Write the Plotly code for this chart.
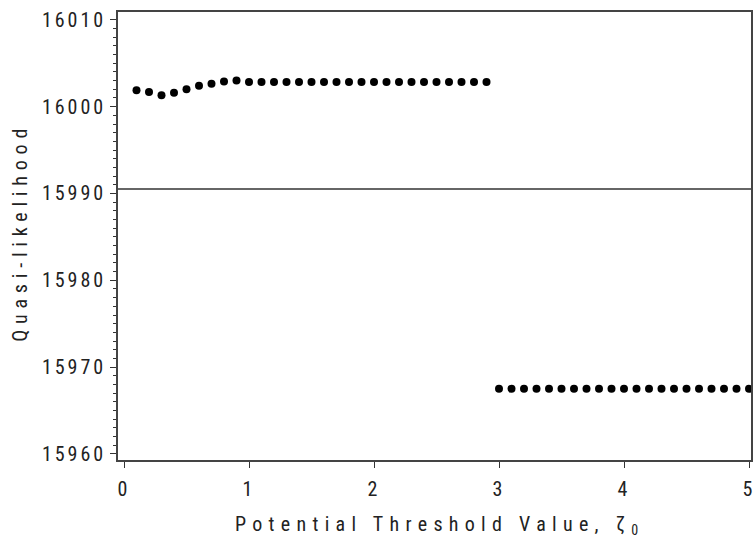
import plotly.graph_objects as go

# Upper series: thresholds 0.1 .. 2.9
x_upper = [0.1, 0.2, 0.3, 0.4, 0.5, 0.6, 0.7, 0.8, 0.9, 1.0,
           1.1, 1.2, 1.3, 1.4, 1.5, 1.6, 1.7, 1.8, 1.9, 2.0,
           2.1, 2.2, 2.3, 2.4, 2.5, 2.6, 2.7, 2.8, 2.9]
y_upper = [16001.9, 16001.7, 16001.3, 16001.6, 16002.0, 16002.4, 16002.65, 16002.9, 16003.0, 16002.85,
           16002.85, 16002.85, 16002.85, 16002.85, 16002.85, 16002.85, 16002.85, 16002.85, 16002.85, 16002.85,
           16002.85, 16002.85, 16002.85, 16002.85, 16002.85, 16002.85, 16002.85, 16002.85, 16002.85]

# Lower series: thresholds 3.0 .. 5.0
x_lower = [3.0, 3.1, 3.2, 3.3, 3.4, 3.5, 3.6, 3.7, 3.8, 3.9, 4.0,
           4.1, 4.2, 4.3, 4.4, 4.5, 4.6, 4.7, 4.8, 4.9, 5.0]
y_lower = [15967.5] * 21

ref_line = 15990.5

x_ticks = [0, 1, 2, 3, 4, 5]
y_ticks = [15960, 15970, 15980, 15990, 16000, 16010]

FONT = "Liberation Sans Narrow, Roboto Condensed, Arial Narrow, Liberation Sans, sans-serif"
SP = '<span style="letter-spacing:3px">{}</span>'

fig = go.Figure()
for xs, ys in [(x_upper, y_upper), (x_lower, y_lower)]:
    fig.add_trace(go.Scatter(x=xs, y=ys, mode="markers",
                             marker=dict(color="black", size=8),
                             showlegend=False, cliponaxis=True))

fig.add_shape(type="line", xref="paper", x0=0, x1=1, yref="y", y0=ref_line, y1=ref_line,
              line=dict(color="#333", width=1.5))

fig.update_layout(
    width=755, height=537,
    margin=dict(l=118, r=0, t=12, b=77),
    paper_bgcolor="white", plot_bgcolor="white",
    font=dict(family=FONT, color="#222", size=20),
    xaxis=dict(range=[-0.048, 5.016], showgrid=False, zeroline=False,
               showline=True, linecolor="#444", linewidth=1.5, mirror=True,
               ticks="outside", ticklen=6, tickcolor="#333", tickwidth=1.2,
               tickvals=x_ticks, ticktext=[SP.format(v) for v in x_ticks],
               ticklabeloverflow="allow", ticklabelstandoff=4,
               tickfont=dict(size=20, family=FONT)),
    yaxis=dict(range=[15959.3, 16010.9], showgrid=False, zeroline=False,
               showline=True, linecolor="#444", linewidth=1.5, mirror=True,
               ticks="outside", ticklen=6, tickcolor="#333", tickwidth=1.2,
               tickvals=y_ticks, ticktext=[SP.format(v) for v in y_ticks],
               tickfont=dict(size=20, family=FONT),
               minor=dict(dtick=1, ticks="outside", ticklen=3, tickcolor="#333", tickwidth=1)),
    annotations=[
        dict(text='<span style="letter-spacing:6.3px">Potential Threshold Value, ζ<sub>0</sub></span>',
             xref="paper", yref="paper", x=0.509, y=-0.145, xanchor="center", yanchor="middle",
             showarrow=False, font=dict(size=20, family=FONT)),
        dict(text='<span style="letter-spacing:5.8px">Quasi-likelihood</span>',
             xref="paper", yref="paper", x=-0.155, y=0.509, xanchor="center", yanchor="middle",
             textangle=-90, showarrow=False, font=dict(size=20, family=FONT)),
    ],
)

fig.write_html("out.html")
